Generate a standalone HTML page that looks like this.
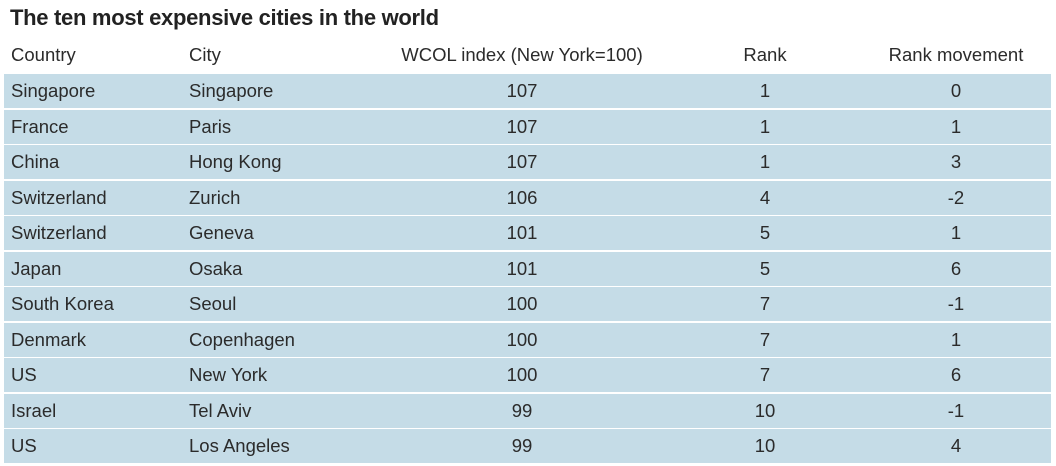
<!DOCTYPE html>
<html><head><style>
body{margin:0;width:1056px;height:466px;background:#fff;font-family:"Liberation Sans",sans-serif;color:#2b2b2b;position:relative;overflow:hidden}
.t{position:absolute;left:10px;top:5px;font-size:22px;font-weight:bold;color:#222;letter-spacing:-0.3px}
.h,.r{position:absolute;left:4px;width:1047px;height:34px;font-size:18.5px}
.h{top:38px}
.r{background:#c5dce7}
.h span,.r span{position:absolute;top:50%;transform:translateY(-50%);white-space:nowrap}
.c1{left:7px}.c2{left:185px}
.c3{left:518px;transform:translate(-50%,-50%)!important}
.c4{left:761px;transform:translate(-50%,-50%)!important}
.c5{left:952px;transform:translate(-50%,-50%)!important}
</style></head><body>
<div class="t">The ten most expensive cities in the world</div>
<div class="h"><span class="c1">Country</span><span class="c2">City</span><span class="c3">WCOL index (New York=100)</span><span class="c4">Rank</span><span class="c5">Rank movement</span></div>
<div class="r" style="top:74px"><span class="c1">Singapore</span><span class="c2">Singapore</span><span class="c3">107</span><span class="c4">1</span><span class="c5">0</span></div>
<div class="r" style="top:109.5px"><span class="c1">France</span><span class="c2">Paris</span><span class="c3">107</span><span class="c4">1</span><span class="c5">1</span></div>
<div class="r" style="top:145px"><span class="c1">China</span><span class="c2">Hong Kong</span><span class="c3">107</span><span class="c4">1</span><span class="c5">3</span></div>
<div class="r" style="top:180.5px"><span class="c1">Switzerland</span><span class="c2">Zurich</span><span class="c3">106</span><span class="c4">4</span><span class="c5">-2</span></div>
<div class="r" style="top:216px"><span class="c1">Switzerland</span><span class="c2">Geneva</span><span class="c3">101</span><span class="c4">5</span><span class="c5">1</span></div>
<div class="r" style="top:251.5px"><span class="c1">Japan</span><span class="c2">Osaka</span><span class="c3">101</span><span class="c4">5</span><span class="c5">6</span></div>
<div class="r" style="top:287px"><span class="c1">South Korea</span><span class="c2">Seoul</span><span class="c3">100</span><span class="c4">7</span><span class="c5">-1</span></div>
<div class="r" style="top:322.5px"><span class="c1">Denmark</span><span class="c2">Copenhagen</span><span class="c3">100</span><span class="c4">7</span><span class="c5">1</span></div>
<div class="r" style="top:358px"><span class="c1">US</span><span class="c2">New York</span><span class="c3">100</span><span class="c4">7</span><span class="c5">6</span></div>
<div class="r" style="top:393.5px"><span class="c1">Israel</span><span class="c2">Tel Aviv</span><span class="c3">99</span><span class="c4">10</span><span class="c5">-1</span></div>
<div class="r" style="top:429px"><span class="c1">US</span><span class="c2">Los Angeles</span><span class="c3">99</span><span class="c4">10</span><span class="c5">4</span></div>
</body></html>
